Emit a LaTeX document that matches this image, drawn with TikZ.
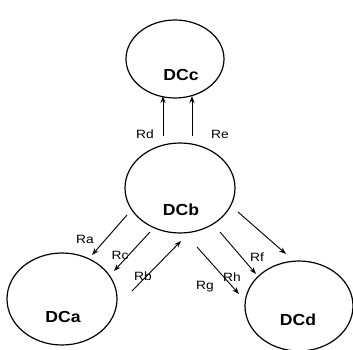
\documentclass[tikz,border=0pt]{standalone}
\usepackage{fontspec}
\setmainfont{Liberation Sans}
\usetikzlibrary{shapes.geometric,arrows.meta}
\begin{document}
\begin{tikzpicture}[x=1pt,y=-1pt,
  dc/.style={draw,line width=1.2pt,ellipse,inner sep=0pt},
  dctext/.style={font=\fontsize{16}{16}\selectfont\bfseries,xscale=1.1,transform shape},
  lbl/.style={font=\fontsize{12}{12}\selectfont,xscale=1.15,transform shape},
  arr/.style={line width=0.9pt,-{Stealth[length=7pt,width=5pt]}}]
\useasboundingbox (0,0) rectangle (353,350);
% ellipses
\node[dc,minimum width=98pt,minimum height=78pt] (c) at (175,59) {};
\node[dc,minimum width=110pt,minimum height=90pt] (b) at (180,188) {};
\node[dc,minimum width=110pt,minimum height=92pt] (a) at (62,299) {};
\node[dc,minimum width=108pt,minimum height=90pt] (d) at (299,306) {};
\node[dctext] (ct) at (181,75) {DCc};
\node[dctext] (bt) at (181,210) {DCb};
\node[dctext] (at) at (63,317) {DCa};
\node[dctext] (dt) at (298,320) {DCd};
% arrow end points
\coordinate (d1) at (163,136); \coordinate (d2) at (163,96);
\coordinate (e1) at (192,136); \coordinate (e2) at (192,96);
\coordinate (a1) at (127,215); \coordinate (a2) at (92,255);
\coordinate (c1) at (150,232); \coordinate (c2) at (114,271);
\coordinate (b1) at (132,291); \coordinate (b2) at (181,241);
\coordinate (f1) at (238,212); \coordinate (f2) at (286,254);
\coordinate (h1) at (220,232); \coordinate (h2) at (256,274);
\coordinate (g1) at (197,247); \coordinate (g2) at (239,294);
\draw[arr] (d1) -- (d2);
\draw[arr] (e1) -- (e2);
\draw[arr] (a1) -- (a2);
\draw[arr] (c1) -- (c2);
\draw[arr] (b1) -- (b2);
\draw[arr] (f1) -- (f2);
\draw[arr] (h1) -- (h2);
\draw[arr] (g1) -- (g2);
% labels
\node[lbl] (rd) at (145,134) {Rd};
\node[lbl] (re) at (220,134) {Re};
\node[lbl] (ra) at (85,239) {Ra};
\node[lbl] (rc) at (120,255) {Rc};
\node[lbl] (rb) at (143,276) {Rb};
\node[lbl] (rf) at (257,257) {Rf};
\node[lbl] (rh) at (232,277) {Rh};
\node[lbl] (rg) at (205,287) {Rg};
\end{tikzpicture}
\end{document}
